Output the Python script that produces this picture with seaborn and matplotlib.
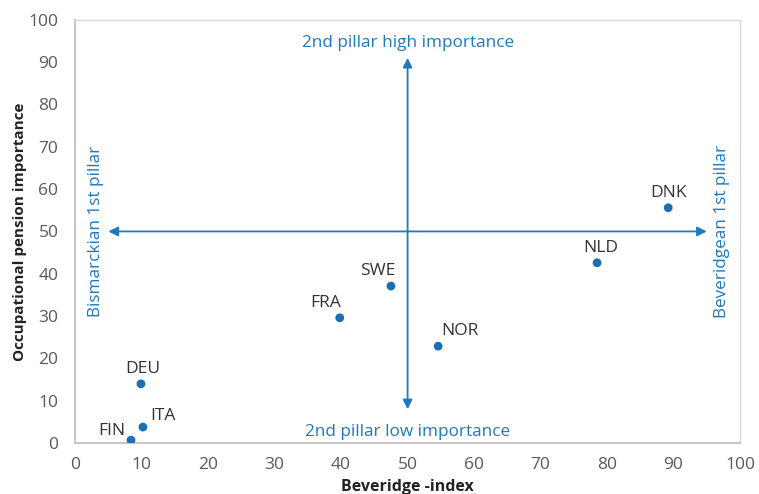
import matplotlib
matplotlib.use("Agg")
import matplotlib.pyplot as plt
import seaborn as sns
import pandas as pd

countries = ["DNK", "NLD", "SWE", "FRA", "NOR", "DEU", "ITA", "FIN"]
beveridge = [89.2, 78.5, 47.5, 39.8, 54.6, 9.9, 10.2, 8.4]
occupational = [55.6, 42.6, 37.1, 29.6, 22.9, 14.0, 3.8, 0.7]
# label offsets in pixels (dx, dy)
offsets = [(0, 7), (4, 7), (-13, 7), (-14, 7), (22, 7), (2, 7), (20, 3), (-6, 9)]

blue = "#1f78c0"
dot = "#1a6fb5"

sns.set_theme(style="white")
plt.rcParams["font.family"] = ["Open Sans", "DejaVu Sans"]

df = pd.DataFrame({"x": beveridge, "y": occupational, "c": countries})

fig = plt.figure(figsize=(7.59, 4.94), dpi=100)
ax = fig.add_axes([0.099, 0.103, 0.876, 0.857])
sns.scatterplot(data=df, x="x", y="y", ax=ax, color=dot, s=40, edgecolor="none", zorder=3)

for c, x, y, (dx, dy) in zip(countries, beveridge, occupational, offsets):
    ax.annotate(c, (x, y), xytext=(dx, dy), textcoords="offset pixels",
                ha="right" if c == "FIN" else "center",
                va="center" if c == "FIN" else "bottom",
                fontsize=12.5, color="#333333")

arrow = dict(arrowstyle="<|-|>", color=blue, lw=1.3, mutation_scale=14, shrinkA=0, shrinkB=0)
ax.annotate("", xy=(5, 50), xytext=(95, 50), arrowprops=arrow)
ax.annotate("", xy=(50, 91), xytext=(50, 8), arrowprops=arrow)

ax.text(50, 94.5, "2nd pillar high importance", color=blue, fontsize=12.3, ha="center", va="center")
ax.text(50, 2.7, "2nd pillar low importance", color=blue, fontsize=12.3, ha="center", va="center")
ax.text(3.1, 50, "Bismarckian 1st pillar", color=blue, fontsize=12.3, ha="center", va="center", rotation=90)
ax.text(97.3, 50, "Beveridgean 1st pillar", color=blue, fontsize=12.3, ha="center", va="center", rotation=90)

ax.set_xlim(0, 100)
ax.set_ylim(0, 100)
ax.set_xticks(range(0, 101, 10))
ax.set_yticks(range(0, 101, 10))
ax.tick_params(labelsize=12.5, colors="#595959", length=0)
ax.tick_params(axis="x", pad=10)
ax.tick_params(axis="y", pad=12)
ax.set_xlabel("Beveridge -index", fontsize=11.5, fontweight="bold", color="#222222", labelpad=4)
ax.set_ylabel("Occupational pension importance", fontsize=11, fontweight="bold", color="#222222", labelpad=1)
for s in ax.spines.values():
    s.set_color("#d9d9d9")
    s.set_linewidth(1)
ax.spines["left"].set_color("#c8c8c8")
ax.spines["bottom"].set_color("#c8c8c8")
ax.spines["left"].set_linewidth(1.5)
ax.spines["bottom"].set_linewidth(1.5)

fig.savefig("out.png", dpi=100)
